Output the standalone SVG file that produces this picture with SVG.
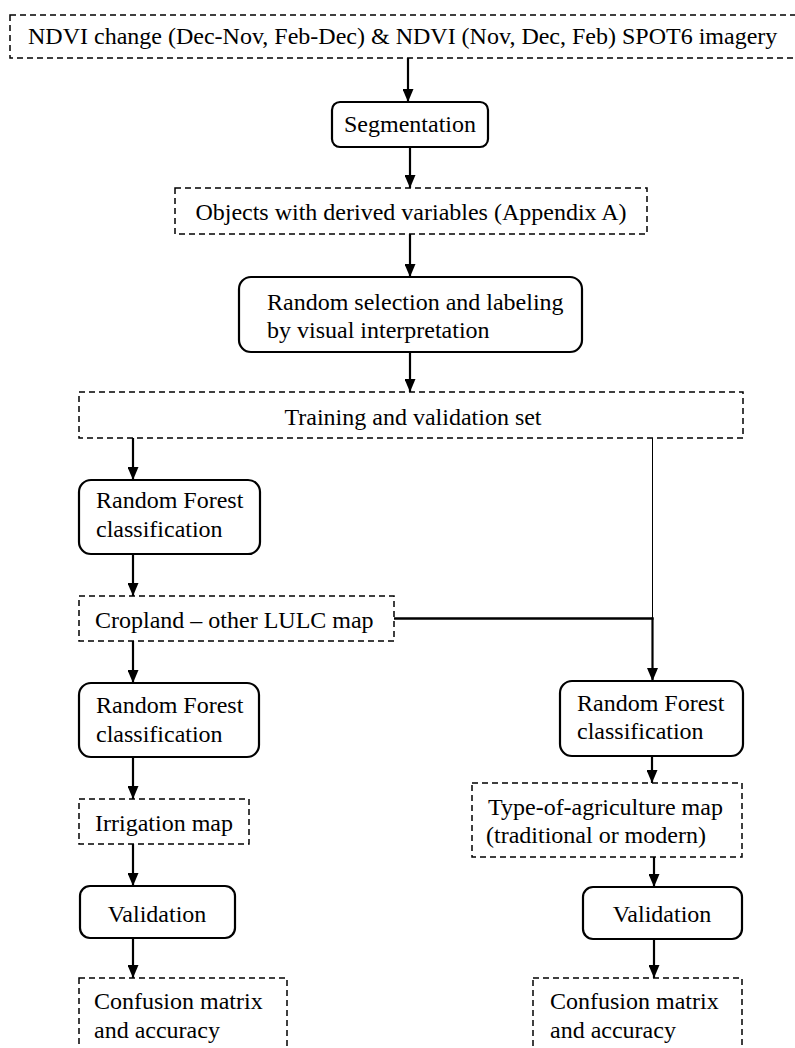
<svg xmlns="http://www.w3.org/2000/svg" width="795" height="1048" viewBox="0 0 795 1048">
<defs>
<marker id="ah" viewBox="0 0 13 11" refX="13" refY="5.5" markerWidth="13" markerHeight="11" markerUnits="userSpaceOnUse" orient="auto">
<path d="M0,0 L13,5.5 L0,11 z" fill="#000"/>
</marker>
</defs>
<style>
.t{font-family:"Liberation Serif","Times New Roman",serif;font-size:24px;fill:#000}
.d{fill:#fff;stroke:#000;stroke-width:1.5;stroke-dasharray:6,4}
.r{fill:#fff;stroke:#000;stroke-width:2.2}
.c{fill:none;stroke:#000;stroke-width:2.5}
.a{fill:none;stroke:#000;stroke-width:2.2;marker-end:url(#ah)}
.thin{fill:none;stroke:#000;stroke-width:1}
</style>
<rect width="795" height="1048" fill="#fff"/>
<g id="connectors">
<line class="a" x1="408" y1="58" x2="408" y2="102"/>
<line class="a" x1="410" y1="147" x2="410" y2="188"/>
<line class="a" x1="410" y1="234" x2="410" y2="277"/>
<line class="a" x1="410" y1="352" x2="410" y2="392"/>
<line class="a" x1="133" y1="438" x2="133" y2="480"/>
<line class="a" x1="133" y1="554" x2="133" y2="596"/>
<line class="a" x1="133" y1="641" x2="133" y2="683"/>
<line class="a" x1="133" y1="757" x2="133" y2="799"/>
<line class="a" x1="133" y1="844" x2="133" y2="886"/>
<line class="a" x1="133" y1="938" x2="133" y2="978"/>
<line class="thin" x1="652.5" y1="438" x2="652.5" y2="618"/>
<line class="c" x1="394" y1="618.5" x2="653.5" y2="618.5"/>
<line class="a" x1="652.5" y1="617.5" x2="652.5" y2="681"/>
<line class="a" x1="652" y1="756" x2="652" y2="783"/>
<line class="a" x1="654" y1="857" x2="654" y2="887"/>
<line class="a" x1="654" y1="939" x2="654" y2="978"/>
</g>
<g id="n1">
<rect class="d" x="10" y="15" width="800" height="43"/>
<text class="t" x="28" y="44">NDVI change (Dec-Nov, Feb-Dec) &amp; NDVI (Nov, Dec, Feb) SPOT6 imagery</text>
</g>
<g id="n2">
<rect class="r" x="332" y="102" width="156" height="45" rx="8"/>
<text class="t" x="410" y="132" text-anchor="middle">Segmentation</text>
</g>
<g id="n3">
<rect class="d" x="175" y="188" width="472" height="46"/>
<text class="t" x="411" y="220" text-anchor="middle">Objects with derived variables (Appendix A)</text>
</g>
<g id="n4">
<rect class="r" x="239" y="277" width="343" height="75" rx="12"/>
<text class="t" x="267" y="310">Random selection and labeling</text>
<text class="t" x="267" y="338">by visual interpretation</text>
</g>
<g id="n5">
<rect class="d" x="79" y="392" width="664" height="46"/>
<text class="t" x="413" y="425" text-anchor="middle">Training and validation set</text>
</g>
<g id="n6">
<rect class="r" x="79" y="480" width="181" height="74" rx="12"/>
<text class="t" x="96" y="508">Random Forest</text>
<text class="t" x="96" y="537">classification</text>
</g>
<g id="n7">
<rect class="d" x="79" y="596" width="315" height="45"/>
<text class="t" x="95" y="628">Cropland – other LULC map</text>
</g>
<g id="n8">
<rect class="r" x="79" y="683" width="180" height="74" rx="12"/>
<text class="t" x="96" y="713">Random Forest</text>
<text class="t" x="96" y="742">classification</text>
</g>
<g id="n9">
<rect class="d" x="79" y="799" width="170" height="45"/>
<text class="t" x="95" y="831">Irrigation map</text>
</g>
<g id="n10">
<rect class="r" x="80" y="886" width="155" height="52" rx="10"/>
<text class="t" x="157" y="922" text-anchor="middle">Validation</text>
</g>
<g id="n11">
<rect class="d" x="79" y="978" width="208" height="90"/>
<text class="t" x="94" y="1009">Confusion matrix</text>
<text class="t" x="94" y="1038">and accuracy</text>
</g>
<g id="n12">
<rect class="r" x="560" y="681" width="183" height="75" rx="12"/>
<text class="t" x="577" y="711">Random Forest</text>
<text class="t" x="577" y="739">classification</text>
</g>
<g id="n13">
<rect class="d" x="472" y="783" width="270" height="74"/>
<text class="t" x="488" y="815">Type-of-agriculture map</text>
<text class="t" x="486" y="843">(traditional or modern)</text>
</g>
<g id="n14">
<rect class="r" x="583" y="887" width="159" height="52" rx="10"/>
<text class="t" x="662" y="922" text-anchor="middle">Validation</text>
</g>
<g id="n15">
<rect class="d" x="533" y="978" width="209" height="90"/>
<text class="t" x="550" y="1009">Confusion matrix</text>
<text class="t" x="550" y="1038">and accuracy</text>
</g>
</svg>
